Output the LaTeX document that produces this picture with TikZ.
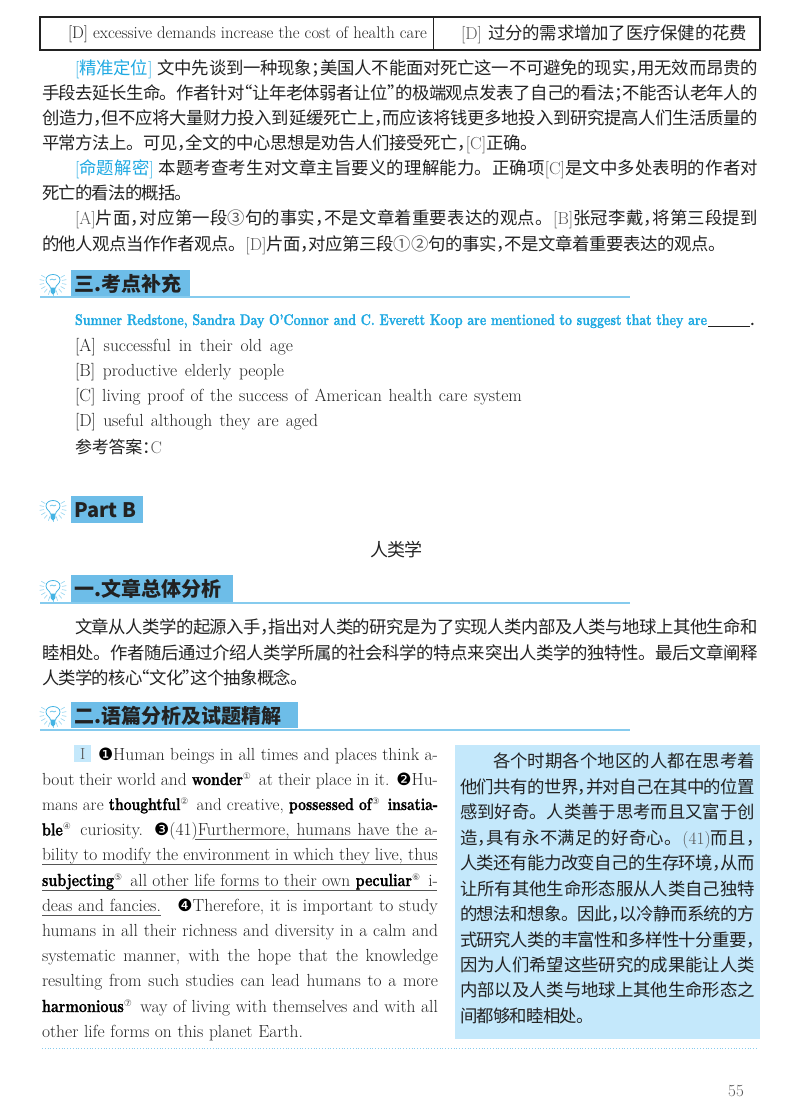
\documentclass[tikz,border=0pt]{standalone}
\usepackage{fontspec}
\usepackage{graphicx}
\newfontfamily\cjk[RawFeature=+halt]{Noto Sans CJK SC}
\newfontfamily\cjkfull{Noto Sans CJK SC}
\newfontfamily\djv{DejaVu Sans}
\newfontfamily\lmb[BoldFeatures={FakeBold=1.5}]{Latin Modern Roman}
\definecolor{ink}{HTML}{222222}
\definecolor{softink}{HTML}{555555}
\definecolor{headblue}{HTML}{6DBDE8}
\definecolor{boxblue}{HTML}{C4E8FB}
\definecolor{ruleblue}{HTML}{86CBEE}
\definecolor{textblue}{HTML}{1FA9E2}
\definecolor{bulbblue}{HTML}{45B4E4}
% stretchable glue between CJK characters
\newXeTeXintercharclass\cjkcl
\newcount\cjkloop
\cjkloop="3000
\loop\ifnum\cjkloop<"A000
  \XeTeXcharclass\cjkloop=\cjkcl
  \advance\cjkloop by 1
\repeat
\XeTeXcharclass"FF0C=\cjkcl
\XeTeXcharclass"FF1B=\cjkcl
\XeTeXcharclass"FF1A=\cjkcl
\XeTeXcharclass"201C=\cjkcl
\XeTeXcharclass"201D=\cjkcl
\XeTeXinterchartoks\cjkcl\cjkcl={\hskip 0pt plus 1pt minus .8pt\relax}
\XeTeXinterchartokenstate=1
\newcommand\CG{\hskip 0pt plus 1pt minus .8pt\relax}
\newcommand\Jh{\CG{\cjkfull 。}\CG}
\newcounter{linenum}
\tikzset{
  x=1pt,y=-1pt,
  textline/.style={anchor=base west,inner sep=0pt,outer sep=0pt,text=ink},
  headbar/.style={fill=headblue,draw=none},
  rulerline/.style={draw=ruleblue,line width=1.3pt},
  underl/.style={draw=softink,line width=.8pt},
}
% \LN{font size}{font command}{x}{baseline y}{width}{content}
\newcommand\LN[6]{\stepcounter{linenum}%
  \node[textline] (line\thelinenum) at (#3,#4) {\hfuzz=40pt\hbadness=10000 \hbox to #5pt{\fontsize{#1}{#1}\selectfont #2#6}};}
\newcommand\ZL[4]{\LN{17.4}{\cjk}{#1}{#2}{#3}{#4}}
\newcommand\EN[4]{\LN{17.5}{\rmfamily}{#1}{#2}{#3}{#4}}
\newcommand\Lat[1]{{\rmfamily\color{softink}#1}}
\newcommand\Sn[1]{\raisebox{6pt}{\djv\fontsize{9}{9}\selectfont\color{softink}#1}\,}
\newcommand\Bn[1]{{\djv\fontsize{17}{17}\selectfont\color{black} #1}}
\newcommand\BF[1]{\scalebox{.82}[1]{\lmb\bfseries\color{black} #1}}
\newcommand\bulb[2]{\begin{scope}[shift={(#1,#2)}]
  \foreach \a in {-30,-10,10,30,50,70,90,110,130,150,170,190,210}
    \draw[bulbblue!60,line width=.6pt] (-2+\a+2:9) -- (\a:13.5);
  \path[draw=bulbblue,fill=white,line width=.8pt] (-2.5,6) .. controls (-2.5,3) and (-7,2) .. (-7,-2) .. controls (-7,-6) and (-3,-7.5) .. (0,-7.5) .. controls (3,-7.5) and (7,-6) .. (7,-2) .. controls (7,2) and (2.5,3) .. (2.5,6) -- cycle;
  \draw[bulbblue,line width=.6pt] (-3,-2) -- (-1,-3) -- (1,-2) -- (3,-3);
  \fill[bulbblue] (-2.5,6) -- (2.5,6) -- (2.2,10.5) -- (0,12.5) -- (-2.2,10.5) -- cycle;
\end{scope}}
\newcommand\HD[6]{% name x1 y1 x2 y2 text
  \node[headbar,anchor=north west,inner sep=0pt,minimum width=#4pt-#2pt,minimum height=#5pt-#3pt] (#1) at (#2,#3) {};
  \node[anchor=west,inner sep=0pt,text=ink] (#1t) at (#2+3,{(#3+#5)/2+.5}) {\cjk\bfseries\fontsize{20}{20}\selectfont #6};}
\begin{document}
\begin{tikzpicture}
\useasboundingbox (0,0) rectangle (800,1115);
% top table
\draw[ink,line width=1.2pt] (40,17) rectangle (760,50);
\draw[ink,line width=.7pt] (433,17) -- (433,50);
\node[textline] (tableleft) at (68,39) {\resizebox{359pt}{\height}{\fontsize{17}{17}\selectfont\rmfamily [D] excessive demands increase the cost of health care}};
\ZL{461}{40}{286}{\Lat{[D]}\hspace{6pt}过分的需求增加了医疗保健的花费}
% paragraph 1
\ZL{75}{75}{683}{{\color{textblue}{\rmfamily[}精准定位{\rmfamily]}}\hspace{5pt}文中先谈到一种现象；美国人不能面对死亡这一不可避免的现实，用无效而昂贵的}
\ZL{42}{100}{716}{手段去延长生命\Jh 作者针对“让年老体弱者让位”的极端观点发表了自己的看法；不能否认老年人的}
\ZL{42}{125}{716}{创造力，但不应将大量财力投入到延缓死亡上，而应该将钱更多地投入到研究提高人们生活质量的}
\ZL{42}{150}{495}{平常方法上\Jh 可见，全文的中心思想是劝告人们接受死亡，\Lat{[C]}正确\Jh\hfill}
\ZL{75}{175}{683}{{\color{textblue}{\rmfamily[}命题解密{\rmfamily]}}\hspace{5pt}本题考查考生对文章主旨要义的理解能力\Jh 正确项\Lat{[C]}是文中多处表明的作者对}
\ZL{42}{200}{143}{死亡的看法的概括\Jh\hfill}
\ZL{75}{225}{683}{\Lat{[A]}片面，对应第一段{\color{softink}③}句的事实，不是文章着重要表达的观点\Jh\Lat{[B]}张冠李戴，将第三段提到}
\ZL{42}{251}{683}{的他人观点当作作者观点\Jh\Lat{[D]}片面，对应第三段{\color{softink}①②}句的事实，不是文章着重要表达的观点\Jh\hfill}
% section three
\bulb{53}{282}
\HD{hthree}{71}{270}{190}{296}{三.考点补充}
\draw[rulerline] (40,297) -- (630,297);
\node[textline,text=textblue] (sumner) at (75,325) {\resizebox{632pt}{\height}{\fontsize{15.5}{15.5}\selectfont\lmb\bfseries Sumner Redstone, Sandra Day O’Connor and C. Everett Koop are mentioned to suggest that they are}};
\node[textline] (sumnerblank) at (708,325) {\rule[-1.5pt]{42pt}{.7pt}\fontsize{15}{15}\selectfont\lmb\bfseries .};
\EN{75}{351}{218}{[A] successful in their old age}
\EN{75}{376}{209}{[B] productive elderly people}
\EN{75}{401}{447}{[C] living proof of the success of American health care system}
\EN{75}{426}{243}{[D] useful although they are aged}
\LN{17}{\cjk}{75}{453}{87}{参考答案：\Lat{C}\hfill}
% Part B
\bulb{53}{508}
\HD{hpartb}{71}{496}{143}{523}{Part B}
\LN{18}{\cjk}{370}{556}{46}{人类学}
\bulb{53}{588}
\HD{hone}{71}{575}{233}{602}{一.文章总体分析}
\draw[rulerline] (40,603) -- (630,603);
\ZL{75}{633}{683}{文章从人类学的起源入手，指出对人类的研究是为了实现人类内部及人类与地球上其他生命和}
\ZL{42}{659}{716}{睦相处\Jh 作者随后通过介绍人类学所属的社会科学的特点来突出人类学的独特性\Jh 最后文章阐释}
\ZL{42}{684}{261}{人类学的核心“文化”这个抽象概念\Jh\hfill}
\bulb{53}{714}
\HD{htwo}{71}{702}{298}{728}{二.语篇分析及试题精解}
\draw[rulerline] (40,730) -- (630,730);
% English passage
\node[fill=boxblue,anchor=north west,inner sep=0pt,minimum width=17pt,minimum height=17pt] (numbox) at (74,745) {};
\node[inner sep=0pt,text=softink,font=\fontsize{16}{16}\selectfont] (numtext) at (numbox.center) {I};
\EN{98}{760}{340}{\Bn{❶}Human beings in all times and places think a-}
\EN{42}{785}{396}{bout their world and \BF{wonder}\Sn{①} at their place in it. \Bn{❷}Hu-}
\LN{17}{\rmfamily}{42}{810}{396}{mans are \BF{thoughtful}\Sn{②} and creative, \BF{possessed of}\Sn{③} \BF{insatia-}}
\EN{42}{835.5}{396}{\BF{ble}\Sn{④} curiosity. \Bn{❸}(41)Furthermore, humans have the a-}
\EN{42}{860.5}{396}{bility to modify the environment in which they live, thus}
\EN{42}{886}{396}{\BF{subjecting}\Sn{⑤} all other life forms to their own \BF{peculiar}\Sn{⑥} i-}
\EN{42}{911}{396}{deas and fancies.\hspace{8pt} \Bn{❹}Therefore, it is important to study}
\EN{42}{936}{396}{humans in all their richness and diversity in a calm and}
\EN{42}{961}{396}{systematic manner, with the hope that the knowledge}
\EN{42}{986}{396}{resulting from such studies can lead humans to a more}
\EN{42}{1012}{396}{\BF{harmonious}\Sn{⑦} way of living with themselves and with all}
\EN{42}{1037}{261}{other life forms on this planet Earth.}
\draw[underl] (195,839.5) -- (437,839.5);
\draw[underl] (42,864.5) -- (437,864.5);
\draw[underl] (42,890) -- (437,890);
\draw[underl] (42,915) -- (161,915);
% Chinese panel
\fill[boxblue] (455,745) rectangle (760,1039);
\ZL{493}{767.5}{262}{各个时期各个地区的人都在思考着}
\ZL{460}{793}{295}{他们共有的世界，并对自己在其中的位置}
\ZL{460}{818.5}{295}{感到好奇\Jh 人类善于思考而且又富于创}
\ZL{460}{844}{295}{造，具有永不满足的好奇心\Jh\Lat{(41)}而且，}
\ZL{460}{869.5}{295}{人类还有能力改变自己的生存环境，从而}
\ZL{460}{895}{295}{让所有其他生命形态服从人类自己独特}
\ZL{460}{920.5}{295}{的想法和想象\Jh 因此，以冷静而系统的方}
\ZL{460}{946}{295}{式研究人类的丰富性和多样性十分重要，}
\ZL{460}{971}{295}{因为人们希望这些研究的成果能让人类}
\ZL{460}{996.5}{295}{内部以及人类与地球上其他生命形态之}
\ZL{460}{1022}{127}{间都够和睦相处\Jh\hfill}
\draw[ruleblue,line width=.8pt,dotted] (42,1048) -- (757,1048);
\node[anchor=base west,inner sep=0pt,text=softink,font=\fontsize{17}{17}\selectfont] (pagenum) at (728,1096) {55};
\end{tikzpicture}
\end{document}
